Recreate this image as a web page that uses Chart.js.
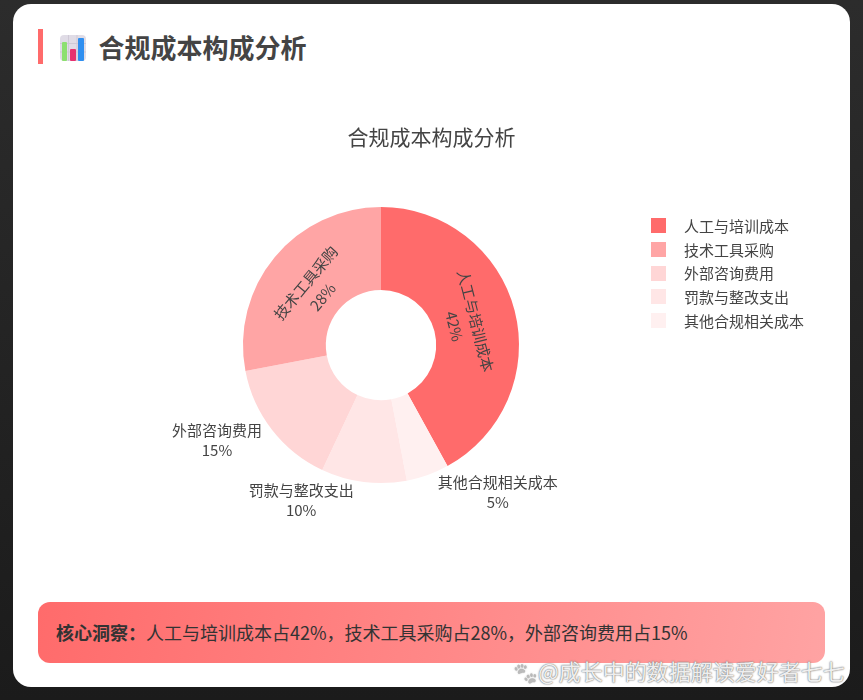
<!DOCTYPE html>
<html lang="zh"><head><meta charset="utf-8">
<script src="https://cdn.jsdelivr.net/npm/chart.js@4"></script>
<style>
*{box-sizing:border-box}
html,body{margin:0;padding:0;width:863px;height:700px;overflow:hidden;background:linear-gradient(180deg,#2c2c2c,#1b1b1b);font-family:"Noto Sans CJK SC","Noto Sans",sans-serif;color:#444}
#card{position:absolute;left:13px;top:4px;width:837px;height:683px;background:#fff;border-radius:18px}
#bar{position:absolute;left:38px;top:29px;width:5px;height:35px;background:#ff6b6b}
#icon{position:absolute;left:60px;top:35px;width:26px;height:26px}
#head{position:absolute;left:98.5px;top:27px;font-size:26px;font-weight:700;line-height:40px;color:#444;margin:0;white-space:nowrap}
#wrap{position:absolute;left:38px;top:100px;width:787px;height:480px}
#legend{position:absolute;left:651px;top:214px;margin:0;padding:0;list-style:none;font-size:15px;line-height:23.7px;color:#444}
#legend li{display:flex;align-items:center;height:23.7px;white-space:nowrap}
#legend i{display:block;width:15px;height:15px;margin-right:18px}
#insight{position:absolute;left:38px;top:602px;width:787px;height:61px;border-radius:12px;background:linear-gradient(100deg,#ff6b6b,#ffa3a3);font-size:18px;line-height:61px;padding-left:18px;color:#333;white-space:nowrap}
#insight b{font-weight:700}
#mark{position:absolute;left:513px;top:655px;font-size:22px;line-height:30px;color:rgba(255,255,255,.9);text-shadow:0 0 2px #777,0 0 1px #777;white-space:nowrap}
#mark span{filter:grayscale(1) brightness(1.9);font-size:20px}
</style></head><body>
<div id="card"></div><div id="bar"></div>
<svg id="icon" viewBox="0 0 26 26"><rect width="26" height="26" rx="4" fill="#e0dce6"/><path d="M0 8.5H26M0 17H26M8.5 0V26M17 0V26" stroke="#cfc9d6" stroke-width="1"/><rect x="2" y="7" width="5" height="19" rx="1" fill="#8ce070"/><rect x="10" y="14" width="6" height="12" rx="1" fill="#e8316f"/><rect x="18" y="3" width="6" height="23" rx="1" fill="#2f8ff0"/></svg>
<h1 id="head">合规成本构成分析</h1>
<div id="wrap"><canvas id="c" width="787" height="480"></canvas></div>
<ul id="legend"></ul>
<div id="insight"><b>核心洞察：</b>人工与培训成本占42%，技术工具采购占28%，外部咨询费用占15%</div>
<div id="mark"><span>🐾</span>@成长中的数据解读爱好者七七</div>
<script>
const chartTitle = "合规成本构成分析";
const categories = ["人工与培训成本","其他合规相关成本","罚款与整改支出","外部咨询费用","技术工具采购"];
const shares = [42,5,10,15,28];
const sliceColors = ["#ff6b6b","#fff0f0","#ffe6e6","#ffd6d6","#ffa5a5"];
const legendOrder = ["人工与培训成本","技术工具采购","外部咨询费用","罚款与整改支出","其他合规相关成本"];
const insideLabels = ["人工与培训成本","技术工具采购"];

const FONT = '"Noto Sans CJK SC","Noto Sans",sans-serif';

document.getElementById('legend').innerHTML = legendOrder.map(n =>
  `<li><i style="background:${sliceColors[categories.indexOf(n)]}"></i>${n}</li>`).join('');

/* reserves the strip beside the doughnut where the legend sits, so the title stays centred on the full width */
const legendGutter = {
  id:'legendGutter',
  beforeInit(chart){
    Chart.layouts.addBox(chart,{
      position:'right',weight:0,fullSize:false,options:{},
      isHorizontal(){return false;},
      update(w,h){this.width=101;this.height=h;},
      draw(){}
    });
  }
};

const sliceLabels = {
  id:'sliceLabels',
  afterDatasetsDraw(chart){
    const ctx = chart.ctx, meta = chart.getDatasetMeta(0);
    ctx.save();
    ctx.font = '15px '+FONT; ctx.fillStyle = '#444'; ctx.textBaseline='middle'; ctx.textAlign='center';
    meta.data.forEach((arc,i)=>{
      const {x,y,startAngle,endAngle,outerRadius,innerRadius} = arc.getProps(['x','y','startAngle','endAngle','outerRadius','innerRadius'],true);
      const mid=(startAngle+endAngle)/2, name=categories[i], pct=shares[i]+'%';
      if(insideLabels.includes(name)){
        const r=(outerRadius+innerRadius)/2-10;
        const cx=x+Math.cos(mid)*r, cy=y+Math.sin(mid)*r;
        let rot=mid+Math.PI/2; if(rot>Math.PI) rot-=2*Math.PI;
        ctx.save(); ctx.translate(cx,cy); ctx.rotate(rot);
        ctx.fillText(name,0,-11); ctx.fillText(pct,0,11);
        ctx.restore();
      } else {
        const w=ctx.measureText(name).width, side=Math.cos(mid)>=0?1:-1;
        const cx=x+Math.cos(mid)*outerRadius+side*(10+w/2);
        const cy=y+Math.sin(mid)*(outerRadius+18);
        ctx.fillText(name,cx,cy-10); ctx.fillText(pct,cx,cy+10);
      }
    });
    ctx.restore();
  }
};

new Chart(document.getElementById('c'),{
  type:'doughnut',
  data:{labels:categories,datasets:[{data:shares,backgroundColor:sliceColors,borderWidth:0,radius:138,cutout:'40%'}]},
  options:{
    responsive:false,animation:false,devicePixelRatio:1,
    layout:{padding:{top:24,bottom:39}},
    plugins:{
      legend:{display:false},tooltip:{enabled:false},
      title:{display:true,text:chartTitle,color:'#444',font:{family:FONT,size:21,weight:'normal'},padding:{top:0,bottom:0}}
    }
  },
  plugins:[legendGutter,sliceLabels]
});
</script>
</body></html>
